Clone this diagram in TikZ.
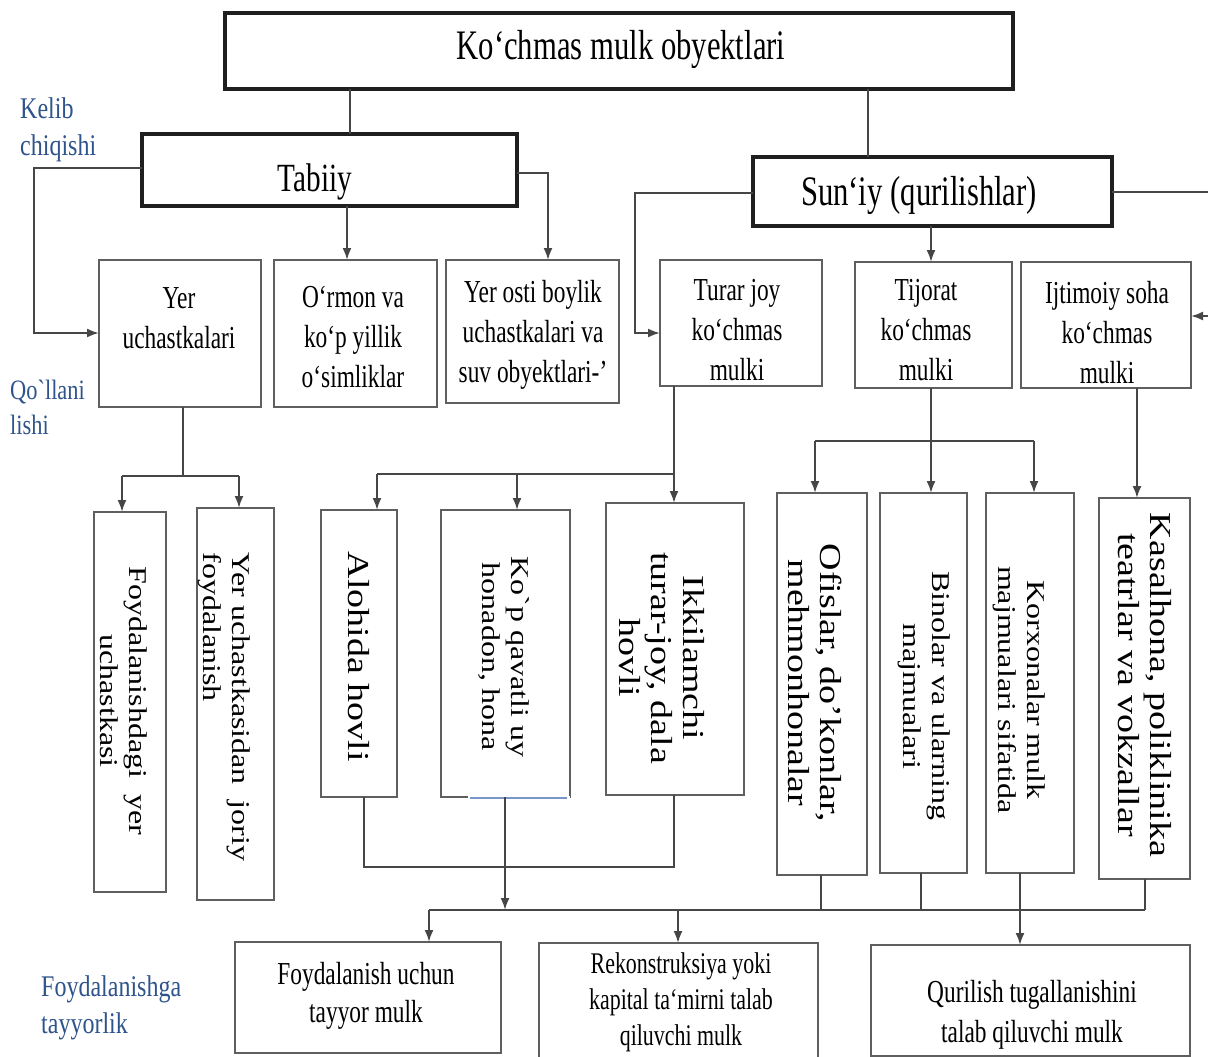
\documentclass[tikz,border=0pt]{standalone}
\usepackage{graphicx}
\usepackage{fontspec}
\setmainfont{Liberation Serif}[FakeStretch=0.73]
\newfontfamily\vfont{Liberation Serif}
\newfontfamily\lblfont{Liberation Serif}[FakeStretch=0.8]
\usetikzlibrary{arrows.meta}
\definecolor{lbl}{RGB}{47,84,140}
\definecolor{bord}{RGB}{95,95,95}
\definecolor{conncol}{RGB}{70,70,70}
\definecolor{kblue}{RGB}{120,150,200}
\newcommand\mkbox[6]{\node[#1, minimum width={(#5-#3)*1pt}, minimum height={(#6-#4)*1pt}] (#2) at ({(#3+#5)/2},{(#4+#6)/2}) {};}
\newcommand\vstack[2][c]{\scalebox{1}[0.8]{\begin{tabular}{@{}#1@{}}#2\end{tabular}}}
\begin{document}
\begin{tikzpicture}[x=1pt,y=-1pt,
  thickbox/.style={draw=black!88, line width=3.6pt, inner sep=0pt, outer sep=0pt},
  thinbox/.style={draw=bord, line width=2.6pt, inner sep=0pt, outer sep=0pt},
  conn/.style={draw=conncol, line width=2pt},
  arr/.style={conn, -{Latex[length=12pt,width=9pt]}},
  htx/.style={align=center, inner sep=0pt, font=\fontsize{32}{40}\selectfont},
  btx/.style={align=center, inner sep=0pt, font=\fontsize{32}{38}\selectfont},
  vsmall/.style={rotate=-90, inner sep=0pt, font=\vfont\fontsize{32}{37}\selectfont},
  vlarge/.style={rotate=-90, inner sep=0pt, font=\vfont\fontsize{38}{40}\selectfont},
  side/.style={text=lbl, align=left, anchor=west, inner sep=0pt, font=\lblfont\fontsize{30}{37}\selectfont},
]
\fill[white] (0,0) rectangle (1208,1057);
\useasboundingbox (0,0) rectangle (1208,1057);

% ---- boxes ----
\mkbox{thickbox}{top}{225}{13}{1013}{89}
\mkbox{thickbox}{tab}{142}{134}{517}{206}
\mkbox{thickbox}{sun}{753}{157}{1112}{226}

\mkbox{thinbox}{yer}{99}{260}{261}{407}
\mkbox{thinbox}{orm}{274}{260}{437}{407}
\mkbox{thinbox}{osti}{446}{260}{619}{403}
\mkbox{thinbox}{tur}{660}{260}{822}{386}
\mkbox{thinbox}{tij}{855}{262}{1012}{388}
\mkbox{thinbox}{ijt}{1021}{262}{1191}{388}

\mkbox{thinbox}{b1}{94}{512}{166}{892}
\mkbox{thinbox}{b2}{197}{508}{274}{900}
\mkbox{thinbox}{b3}{321}{510}{397}{797}
\mkbox{thinbox}{b4}{441}{510}{570}{797}
\mkbox{thinbox}{b5}{606}{503}{744}{795}
\mkbox{thinbox}{b6}{777}{493}{867}{875}
\mkbox{thinbox}{b7}{880}{493}{967}{873}
\mkbox{thinbox}{b8}{986}{493}{1074}{873}
\mkbox{thinbox}{b9}{1099}{498}{1190}{879}

\mkbox{thinbox}{q1}{235}{942}{501}{1053}
\mkbox{thinbox}{q2}{539}{943}{818}{1070}
\mkbox{thinbox}{q3}{871}{945}{1190}{1056}

% blue stroke under the Ko`p box
\draw[white, line width=3pt] (b4.south west) ++(27,0) -- (b4.south east);
\draw[kblue, line width=1.6pt] (b4.south west) ++(29,1) -- ([xshift=-3pt,yshift=-1pt]b4.south east);

% ---- texts ----
\node[inner sep=0pt, font=\fontsize{42}{48}\selectfont] (t0) at (621,49) {Ko`chmas mulk obyektlari};
\node[inner sep=0pt, font=\fontsize{40}{46}\selectfont] (t1) at (315,182) {Tabiiy};
\node[inner sep=0pt, font=\fontsize{42}{48}\selectfont] (t2) at (919,195) {Sun`iy (qurilishlar)};

\node[htx] (t3) at (179,318) {Yer\\uchastkalari};
\node[htx] (t4) at (353,337) {O`rmon va\\ko`p yillik\\o`simliklar};
\node[htx] (t5) at (533,335) {Yer osti boylik\\uchastkalari va\\suv obyektlari-'};
\node[htx] (t6) at (737,330) {Turar joy\\ko`chmas\\mulki};
\node[htx] (t7) at (926,330) {Tijorat\\ko`chmas\\mulki};
\node[htx] (t8) at (1107,333) {Ijtimoiy soha\\ko`chmas\\mulki};

\node[vsmall] (v1) at (121,701) {\vstack{Foydalanishdagi\ \ yer\\uchastkasi}};
\node[vsmall] (v2) at (224,707) {\vstack[l]{Yer uchastkasidan\ \ joriy\\foydalanish}};
\node[vlarge] (v3) at (355,657) {\vstack{Alohida hovli}};
\node[vsmall] (v4) at (503,657) {\vstack{Ko`p qavatli uy\\honadon, hona}};
\node[vlarge] (v5) at (658,658) {\vstack{Ikkilamchi\\turar-joy, dala\\hovli}};
\node[vlarge] (v6) at (811,683) {\vstack{Ofislar, do’konlar,\\mehmonhonalar}};
\node[vsmall] (v7) at (924,696) {\vstack{Binolar va ularning\\majmualari}};
\node[vsmall] (v8) at (1019,690) {\vstack{Korxonalar mulk\\majmualari sifatida}};
\node[vlarge] (v9) at (1141,685) {\vstack{Kasalhona, poliklinika\\teatrlar va vokzallar}};

\node[btx] (t9) at (366,996) {Foydalanish uchun\\tayyor mulk};
\node[btx, font=\fontsize{30}{36}\selectfont] (t10) at (681,1002) {Rekonstruksiya yoki\\kapital ta`mirni talab\\qiluvchi mulk};
\node[btx, font=\fontsize{32}{40}\selectfont] (t11) at (1032,1015) {Qurilish tugallanishini\\talab qiluvchi mulk};

\node[side] (s1) at (20,130) {Kelib\\chiqishi};
\node[side, font=\lblfont\fontsize{28}{35}\selectfont] (s2) at (10,407) {Qo`llani\\lishi};
\node[side] (s3) at (41,1008) {Foydalanishga\\tayyorlik};

% ---- connectors ----
\coordinate (jA) at (350,0);
\coordinate (jB) at (868,0);
\draw[conn] (top.south -| jA) -- (tab.north -| jA);
\draw[conn] (top.south -| jB) -- (sun.north -| jB);

\coordinate (k1) at (34,168);
\coordinate (k2) at (34,333);
\draw[arr] (tab.west |- k1) -- (k1) -- (k2) -- (yer.west |- k2);
\coordinate (jC) at (347,0);
\draw[arr] (tab.south -| jC) -- (orm.north -| jC);
\coordinate (k3) at (548,173);
\draw[arr] (tab.east |- k3) -- (k3) -- (osti.north -| k3);

\coordinate (k4) at (635,193);
\coordinate (k5) at (635,333);
\draw[arr] (sun.west |- k4) -- (k4) -- (k5) -- (tur.west |- k5);
\coordinate (jD) at (931,0);
\draw[arr] (sun.south -| jD) -- (tij.north -| jD);
\coordinate (k6) at (1208,192);
\draw[conn] (sun.east |- k6) -- (k6);
\coordinate (k7) at (1208,316);
\draw[arr] (k7) -- (ijt.east |- k7);

\coordinate (k8) at (183,476);
\coordinate (k9) at (122,476);
\coordinate (k10) at (239,476);
\draw[conn] (yer.south -| k8) -- (k8);
\draw[conn] (k9) -- (k10);
\draw[arr] (k9) -- (b1.north -| k9);
\draw[arr] (k10) -- (b2.north -| k10);

\coordinate (k11) at (674,474);
\coordinate (k12) at (377,474);
\coordinate (k13) at (517,474);
\draw[arr] (tur.south -| k11) -- (b5.north -| k11);
\draw[conn] (k12) -- (k11);
\draw[arr] (k12) -- (b3.north -| k12);
\draw[arr] (k13) -- (b4.north -| k13);

\coordinate (k14) at (931,441);
\coordinate (k15) at (815,441);
\coordinate (k16) at (1034,441);
\draw[arr] (tij.south -| k14) -- (b7.north -| k14);
\draw[conn] (k15) -- (k16);
\draw[arr] (k15) -- (b6.north -| k15);
\draw[arr] (k16) -- (b8.north -| k16);

\coordinate (jE) at (1137,0);
\draw[arr] (ijt.south -| jE) -- (b9.north -| jE);

\coordinate (k17) at (364,867);
\coordinate (k18) at (674,867);
\draw[conn] (b3.south -| k17) -- (k17) -- (k18) -- (b5.south -| k18);
\coordinate (k19) at (505,910);
\draw[arr] (b4.south -| k19) -- (k19);

\coordinate (k20) at (429,910);
\coordinate (k21) at (1145,910);
\draw[conn] (k20) -- (k21);
\coordinate (jF) at (821,910);
\coordinate (jG) at (921,910);
\draw[conn] (b6.south -| jF) -- (jF);
\draw[conn] (b7.south -| jG) -- (jG);
\draw[conn] (b9.south -| k21) -- (k21);
\coordinate (jI) at (1020,0);
\draw[arr] (b8.south -| jI) -- (q3.north -| jI);
\draw[arr] (k20) -- (q1.north -| k20);
\coordinate (k22) at (678,910);
\draw[arr] (k22) -- (q2.north -| k22);
\end{tikzpicture}
\end{document}
